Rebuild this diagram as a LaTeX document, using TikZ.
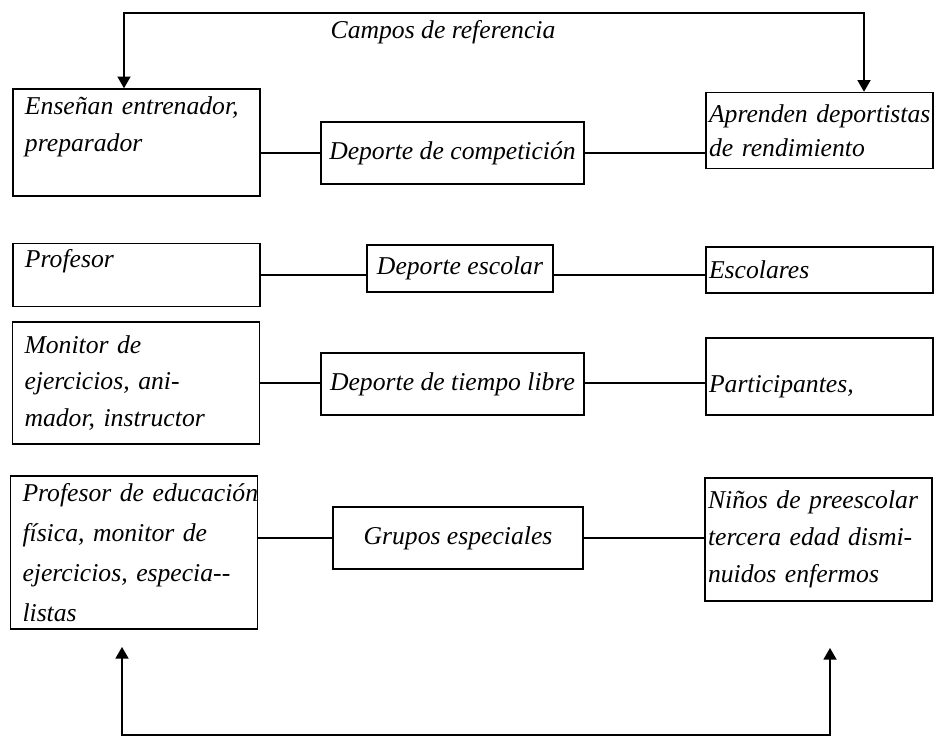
\documentclass[tikz,border=0pt]{standalone}
\usepackage{fontspec}
\setmainfont{Liberation Serif}
\usetikzlibrary{arrows}
\begin{document}
\begin{tikzpicture}
\tikzstyle{caja}=[draw,line width=0.9pt,inner ysep=0pt,font=\itshape\fontsize{14.6}{21}\selectfont]
\tikzstyle{caja izq}=[caja,align=left,inner xsep=0.24cm,text width=4.46cm]
\tikzstyle{caja der}=[caja,align=left,inner xsep=0.06cm,text width=4.42cm]
\tikzstyle{caja centro}=[caja,align=center,inner xsep=0pt]
\tikzstyle{flecha}=[line width=0.8pt,triangle 60-triangle 60]

\useasboundingbox (0,0) rectangle (18.68,-14.76);

\node[font=\itshape\fontsize{14.6}{21}\selectfont] (campos) at (8.86,-0.64) {Campos de referencia};

\node[caja izq,minimum height=2.14cm] (ens) at (2.73,-2.85) {Enseñan entrenador,\\ preparador\\[-0.24cm] \strut};
\node[caja centro,minimum width=5.26cm,minimum height=1.24cm] (comp) at (9.05,-3.06) {Deporte de competición};
\node[caja der,minimum height=1.52cm,font=\itshape\fontsize{14.6}{19.3}\selectfont] (apr) at (16.39,-2.61) {\mbox{Aprenden deportistas}\\ de rendimiento};

\node[caja izq,minimum height=1.26cm,text height=10pt,text depth=18pt] (prof) at (2.73,-5.5) {Profesor};
\node[caja centro,minimum width=3.72cm,minimum height=0.94cm] (esc) at (9.2,-5.37) {Deporte escolar};
\node[caja der,minimum height=0.92cm] (escs) at (16.39,-5.4) {Escolares};

\node[caja izq,minimum height=2.44cm] (mon) at (2.72,-7.66) {Monitor de\\ ejercicios, ani-\\ mador, instructor};
\node[caja centro,minimum width=5.26cm,minimum height=1.24cm] (libre) at (9.05,-7.68) {Deporte de tiempo libre};
\node[caja der,minimum height=1.54cm,text height=21pt,text depth=3pt] (part) at (16.39,-7.53) {Participantes,};

\node[caja izq,minimum height=3.06cm,font=\itshape\fontsize{14.6}{22.9}\selectfont] (edu) at (2.68,-11.05) {\mbox{Profesor de educación}\\ física, monitor de\\ ejercicios, especia-{}-\\ listas};
\node[caja centro,minimum width=5cm,minimum height=1.24cm] (grup) at (9.16,-10.76) {Grupos especiales};
\node[caja der,minimum height=2.46cm] (nin) at (16.37,-10.79) {Niños de preescolar\\ tercera edad dismi-\\ nuidos enfermos};

\draw[line width=0.9pt] (comp.west -| ens.east) -- (comp.west);
\draw[line width=0.9pt] (comp.east) -- (comp.east -| apr.west);
\draw[line width=0.9pt] (prof.east) -- (prof.east -| esc.west);
\draw[line width=0.9pt] (prof.east -| esc.east) -- (prof.east -| escs.west);
\draw[line width=0.9pt] (mon.east) -- (mon.east -| libre.west);
\draw[line width=0.9pt] (mon.east -| libre.east) -- (mon.east -| part.west);
\draw[line width=0.9pt] (grup.west -| edu.east) -- (grup.west);
\draw[line width=0.9pt] (grup.east) -- (grup.east -| nin.west);

\coordinate (t1) at (2.48,-0.26);
\coordinate (t2) at (17.28,-0.26);
\coordinate (b1) at (2.44,-14.7);
\coordinate (b2) at (16.6,-14.7);
\coordinate (f1) at (2.44,-12.94);
\coordinate (f2) at (16.6,-12.96);
\draw[flecha] (ens.north -| t1) -- (t1) -- (t2) -- (apr.north -| t2);
\draw[flecha] (f1) -- (b1) -- (b2) -- (f2);
\end{tikzpicture}
\end{document}
